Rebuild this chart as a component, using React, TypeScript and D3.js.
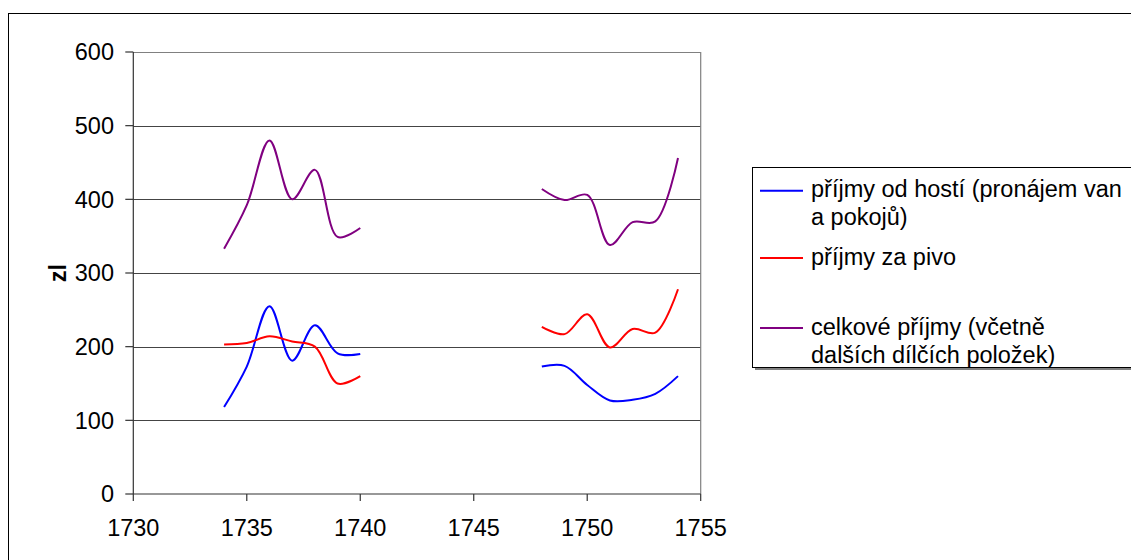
import * as d3 from "d3";

// years on the x axis (gap 1741-1747 has no data)
const years = [
  1734, 1735, 1736, 1737, 1738, 1739, 1740, 1741, 1742, 1743, 1744, 1745, 1746, 1747,
  1748, 1749, 1750, 1751, 1752, 1753, 1754,
];
const guests = [118, 173, 255, 181, 229, 191, 190, null, null, null, null, null, null, null, 173, 174, 148, 127, 128, 136, 160];
const beer = [203, 205, 214, 207, 200, 150, 160, null, null, null, null, null, null, null, 227, 217, 244, 199, 224, 219, 278];
const total = [333, 392, 480, 400, 440, 349, 361, null, null, null, null, null, null, null, 414, 399, 406, 338, 369, 370, 456];

const yTicks = [0, 100, 200, 300, 400, 500, 600];
const xTicks = [1730, 1735, 1740, 1745, 1750, 1755];

const seriesNames = [
  ["příjmy od hostí (pronájem van", "a pokojů)"],
  ["příjmy za pivo"],
  ["celkové příjmy (včetně", "dalších dílčích položek)"],
];
const seriesColors = ["#0000ff", "#ff0000", "#800080"];

const W = 1131;
const H = 560;
const plot = { left: 133.3, right: 700.7, top: 52, bottom: 494 };
const font = "'Liberation Sans', Arial, sans-serif";
const fs = 23.5;

export default function App() {
  const x = d3.scaleLinear().domain([1730, 1755]).range([plot.left, plot.right]);
  const y = d3.scaleLinear().domain([0, 600]).range([plot.bottom, plot.top]);

  const line = d3
    .line<number | null>()
    .defined((d) => d != null)
    .x((_, i) => x(years[i]))
    .y((d) => y(d as number))
    .curve(d3.curveCatmullRom.alpha(0.5));

  const allSeries = [guests, beer, total];

  // legend rows: marker y and text baselines
  const legendRows = [
    { marker: 190.7, baselines: [197, 225] },
    { marker: 258, baselines: [265] },
    { marker: 328, baselines: [335, 363] },
  ];

  return (
    <svg
      width={W}
      height={H}
      style={{ position: "absolute", left: 0, top: 0, display: "block", background: "#fff" }}
      fontFamily={font}
    >
      {/* chart area border */}
      <rect x={8.5} y={13.5} width={1300} height={700} fill="#fff" stroke="#000" strokeWidth={1} />

      {/* gridlines */}
      {yTicks.slice(1).map((t) => (
        <line
          key={t}
          x1={plot.left}
          x2={plot.right}
          y1={Math.round(y(t)) + 0.5}
          y2={Math.round(y(t)) + 0.5}
          stroke={t === 600 ? "#808080" : "#444"}
          strokeWidth={1}
        />
      ))}
      {/* plot area right border */}
      <line x1={plot.right} x2={plot.right} y1={plot.top} y2={plot.bottom} stroke="#808080" strokeWidth={1.2} />

      {/* y axis */}
      <line x1={plot.left} x2={plot.left} y1={plot.top} y2={plot.bottom} stroke="#333" strokeWidth={1.2} />
      {yTicks.map((t) => (
        <g key={t}>
          <line x1={plot.left - 8} x2={plot.left} y1={y(t)} y2={y(t)} stroke="#333" strokeWidth={1.2} />
          <text x={114} y={y(t) + 8.4} textAnchor="end" fontSize={fs} fill="#000">
            {t}
          </text>
        </g>
      ))}

      {/* x axis */}
      <line x1={plot.left} x2={plot.right} y1={plot.bottom} y2={plot.bottom} stroke="#333" strokeWidth={1.2} />
      {xTicks.map((t) => (
        <g key={t}>
          <line x1={x(t)} x2={x(t)} y1={plot.bottom} y2={plot.bottom + 7} stroke="#333" strokeWidth={1.2} />
          <text x={x(t)} y={536} textAnchor="middle" fontSize={fs} fill="#000">
            {t}
          </text>
        </g>
      ))}

      {/* y axis title */}
      <text
        transform={`translate(66, ${(plot.top + plot.bottom) / 2}) rotate(-90)`}
        textAnchor="middle"
        fontSize={fs}
        fontWeight="bold"
        fill="#000"
      >
        zl
      </text>

      {/* series */}
      {allSeries.map((s, i) => (
        <path key={i} d={line(s) ?? ""} fill="none" stroke={seriesColors[i]} strokeWidth={2} />
      ))}

      {/* legend */}
      <rect x={755} y={170} width={500} height={200} fill="#808080" />
      <rect x={752.5} y={167.5} width={500} height={200} fill="#fff" stroke="#000" strokeWidth={1} />
      {legendRows.map((r, i) => (
        <g key={i}>
          <line x1={760} x2={803} y1={r.marker} y2={r.marker} stroke={seriesColors[i]} strokeWidth={2} />
          {seriesNames[i].map((txt, j) => (
            <text key={j} x={811} y={r.baselines[j]} fontSize={fs} fill="#000">
              {txt}
            </text>
          ))}
        </g>
      ))}
    </svg>
  );
}
